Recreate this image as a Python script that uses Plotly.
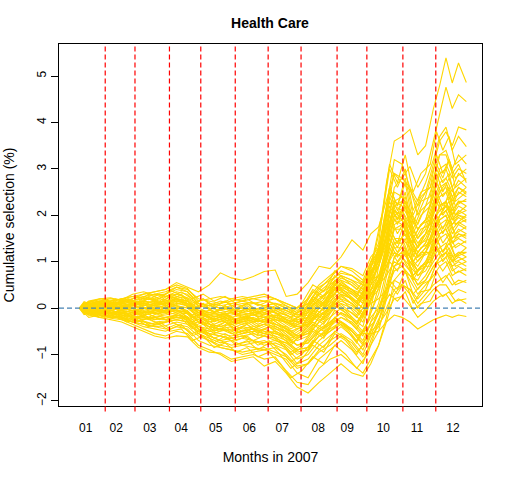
import plotly.graph_objects as go

# trading-day index (2007) at which each path value was read
days = [4, 10, 17, 24, 31, 38, 45, 52, 59, 66, 73, 80, 87, 94, 101, 108, 115, 122, 129, 136,
        143, 150, 157, 164, 171, 178, 185, 190, 195, 200, 205, 210, 215, 220, 225, 230, 234,
        238, 242, 246, 251]
# second reading grid, offset from the first one
days_b = [4, 7, 13, 20, 27, 34, 41, 48, 55, 62, 69, 76, 83, 90, 97, 104, 111, 118, 125, 132,
          139, 146, 153, 160, 167, 174, 181, 188, 192, 197, 202, 207, 212, 217, 222, 228, 232,
          236, 240, 244, 251]

# month boundaries (between last day of one month and first of the next)
month_breaks = [20.5, 39.5, 61.5, 81.5, 103.5, 124.5, 145.5, 168.5, 187.5, 210.5, 231.5]
month_label_days = [8, 27.5, 49, 69, 91, 112.5, 133.5, 156.5, 175, 198, 219.5, 242.5]
month_labels = ["01", "02", "03", "04", "05", "06", "07", "08", "09", "10", "11", "12"]
y_ticks = [-2, -1, 0, 1, 2, 3, 4, 5]

# cumulative selection (%) paths, grouped by where they finish the year
paths_top = [
    [0, 0.05, 0.1, 0.08, 0.12, 0.15, 0.2, 0.18, 0.25, 0.3, 0.22, 0.1, 0.05, 0.0, 0.05, 0.1, 0.12, 0.05, 0.1, 0.0, -0.1,
     0.05, 0.3, 0.45, 0.7, 0.6, 0.5, 1.0, 1.4, 2.7, 3.6, 3.7, 3.85, 3.3, 3.5, 4.3, 4.8, 5.39, 4.85, 5.28, 4.86],
    [0, -0.05, 0.02, 0.05, 0.0, 0.08, 0.1, 0.05, 0.12, 0.18, 0.1, -0.05, -0.1, -0.15, -0.1, -0.2, -0.15, -0.1, -0.2, -0.25, -0.3,
     -0.4, -0.1, 0.2, 0.5, 0.4, 0.3, 0.9, 1.2, 2.0, 2.9, 2.8, 3.05, 2.6, 2.9, 3.6, 4.2, 4.76, 4.3, 4.6, 4.45],
    [0, 0.1, 0.15, 0.12, 0.2, 0.25, 0.3, 0.35, 0.4, 0.55, 0.45, 0.35, 0.5, 0.76, 0.65, 0.6, 0.68, 0.79, 0.82, 0.25, 0.3,
     0.55, 0.9, 0.85, 1.1, 1.47, 1.25, 1.6, 1.75, 2.3, 2.9, 2.7, 2.55, 2.2, 2.5, 3.1, 3.6, 3.8, 3.5, 3.9, 3.84],
    [0, -0.08, -0.1, -0.05, -0.12, -0.1, -0.15, -0.1, -0.05, 0.0, -0.05, -0.3, -0.4, -0.45, -0.5, -0.4, -0.45, -0.35, -0.4, -0.5, -0.7,
     -0.6, -0.3, 0.0, 0.3, 0.2, 0.0, 0.5, 0.9, 1.6, 2.6, 2.8, 2.6, 2.3, 2.7, 3.2, 3.7, 3.9, 3.4, 3.7, 3.48],
    [0, 0.12, 0.05, 0.1, 0.02, 0.08, -0.05, 0.0, 0.05, 0.15, 0.1, -0.1, -0.2, -0.25, -0.2, -0.3, -0.25, -0.2, -0.15, -0.3, -0.4,
     -0.35, 0.0, 0.3, 0.5, 0.3, 0.1, 0.6, 0.9, 1.5, 2.3, 2.4, 2.1, 1.8, 2.2, 2.7, 3.3, 3.4, 3.0, 3.3, 3.1],
    [0, -0.1, -0.15, -0.2, -0.18, -0.3, -0.35, -0.4, -0.38, -0.3, -0.35, -0.5, -0.6, -0.7, -0.65, -0.6, -0.7, -0.75, -0.7, -0.8, -1.0,
     -0.9, -0.5, -0.3, -0.1, -0.2, -0.4, 0.2, 0.6, 1.4, 2.2, 2.3, 2.0, 1.7, 1.9, 2.5, 3.0, 3.1, 2.8, 3.0, 2.9],
    [0, 0.08, 0.15, 0.2, 0.18, 0.3, 0.35, 0.28, 0.3, 0.45, 0.35, 0.1, 0.05, 0.1, 0.15, 0.2, 0.25, 0.3, 0.2, 0.1, 0.0,
     0.2, 0.5, 0.7, 0.9, 0.8, 0.6, 1.0, 1.2, 1.8, 2.5, 2.4, 2.1, 1.7, 1.9, 2.4, 2.9, 3.0, 2.6, 2.9, 2.75],
    [0, 0.05, 0.1, 0.05, 0.0, 0.05, 0.1, 0.05, 0.12, 0.2, 0.15, -0.1, -0.05, -0.1, -0.05, 0.0, -0.05, -0.1, 0.0, -0.1, -0.2,
     -0.15, 0.15, 0.4, 0.65, 0.55, 0.35, 0.9, 1.3, 2.2, 3.2, 3.1, 2.6, 2.0, 2.4, 3.0, 3.3, 3.3, 2.9, 3.1, 2.7],
]

paths_mid = [
    [0, -0.05, -0.08, 0.0, -0.05, -0.1, -0.08, -0.12, -0.1, -0.05, -0.1, -0.3, -0.35, -0.4, -0.3, -0.35, -0.3, -0.25, -0.35, -0.4, -0.6,
     -0.55, -0.2, 0.05, 0.25, 0.1, -0.15, 0.4, 0.7, 1.3, 2.0, 2.1, 1.8, 1.5, 1.8, 2.3, 2.7, 2.8, 2.5, 2.75, 2.6],
    [0, 0.02, -0.05, -0.1, -0.05, -0.2, -0.25, -0.2, -0.25, -0.15, -0.2, -0.45, -0.55, -0.6, -0.7, -0.65, -0.7, -0.6, -0.65, -0.75, -0.9,
     -0.85, -0.6, -0.4, -0.2, -0.35, -0.6, -0.1, 0.3, 1.0, 1.8, 1.9, 1.6, 1.3, 1.6, 2.1, 2.5, 2.7, 2.4, 2.6, 2.5],
    [0, -0.08, -0.05, 0.0, 0.05, 0.1, 0.05, 0.1, 0.15, 0.2, 0.15, -0.05, -0.15, -0.1, -0.2, -0.15, -0.1, -0.15, -0.05, -0.15, -0.3,
     -0.2, 0.1, 0.3, 0.55, 0.4, 0.2, 0.6, 0.9, 1.5, 2.3, 2.2, 1.9, 1.5, 1.7, 2.2, 2.6, 2.7, 2.3, 2.6, 2.45],
    [0, 0.1, 0.05, 0.0, 0.05, 0.0, 0.05, 0.1, 0.08, 0.2, 0.15, 0.0, -0.1, -0.05, 0.0, -0.1, -0.05, 0.05, 0.0, -0.05, -0.2,
     -0.1, 0.2, 0.4, 0.6, 0.5, 0.3, 0.7, 1.0, 1.5, 2.1, 2.0, 1.7, 1.4, 1.6, 2.1, 2.5, 2.6, 2.2, 2.5, 2.4],
    [0, -0.1, -0.2, -0.15, -0.25, -0.35, -0.45, -0.55, -0.6, -0.5, -0.55, -0.8, -0.9, -1.0, -1.15, -1.1, -1.05, -1.25, -1.15, -1.4, -1.7,
     -1.83, -1.6, -1.4, -1.2, -1.4, -1.47, -1.2, -0.8, -0.2, 0.6, 0.8, 0.7, 0.6, 0.9, 1.5, 2.0, 2.2, 2.0, 2.3, 2.3],
    [0, 0.05, 0.0, 0.05, 0.1, 0.05, 0.1, 0.15, 0.1, 0.18, 0.1, -0.15, -0.2, -0.3, -0.25, -0.2, -0.3, -0.25, -0.2, -0.3, -0.35,
     -0.3, -0.1, 0.1, 0.3, 0.2, 0.0, 0.4, 0.6, 1.2, 1.9, 2.0, 1.6, 1.3, 1.6, 2.0, 2.4, 2.5, 2.1, 2.3, 2.2],
    [0, -0.1, -0.05, -0.12, -0.08, -0.15, -0.1, -0.18, -0.15, -0.1, -0.12, -0.4, -0.5, -0.45, -0.55, -0.5, -0.45, -0.55, -0.5, -0.6, -0.8,
     -0.7, -0.4, -0.2, 0.0, -0.1, -0.3, 0.2, 0.5, 1.1, 1.7, 1.8, 1.5, 1.2, 1.4, 1.9, 2.2, 2.3, 2.0, 2.2, 2.1],
    [0, 0.15, 0.2, 0.15, 0.2, 0.25, 0.2, 0.3, 0.25, 0.35, 0.3, 0.05, 0.0, -0.05, -0.1, -0.05, 0.0, -0.05, 0.05, -0.05, -0.15,
     -0.1, 0.3, 0.5, 0.7, 0.6, 0.4, 0.8, 0.9, 1.4, 1.9, 1.8, 1.5, 1.2, 1.4, 1.8, 2.2, 2.3, 1.9, 2.1, 2.0],
    [0, -0.05, -0.15, -0.2, -0.22, -0.3, -0.4, -0.45, -0.5, -0.4, -0.45, -0.7, -0.8, -0.85, -0.9, -1.0, -0.95, -0.9, -1.0, -1.1, -1.4,
     -1.5, -1.1, -0.9, -0.7, -0.9, -1.2, -0.7, -0.3, 0.4, 1.1, 1.3, 1.1, 0.9, 1.2, 1.7, 2.0, 2.1, 1.8, 2.0, 1.95],
    [0, 0.12, 0.2, 0.22, 0.15, 0.2, 0.3, 0.35, 0.4, 0.5, 0.42, 0.15, 0.2, 0.25, 0.2, 0.15, 0.2, 0.25, 0.2, 0.05, -0.05,
     0.1, 0.45, 0.6, 0.75, 0.7, 0.55, 0.8, 1.0, 1.6, 2.2, 2.1, 1.7, 1.3, 1.5, 1.9, 2.1, 2.2, 1.9, 2.0, 1.9],
    [0, 0.05, 0.1, 0.05, 0.0, -0.05, 0.0, -0.05, 0.0, 0.1, 0.05, -0.2, -0.3, -0.25, -0.35, -0.3, -0.25, -0.3, -0.35, -0.45, -0.6,
     -0.5, -0.2, 0.0, 0.2, 0.1, -0.1, 0.3, 0.6, 1.1, 1.7, 1.7, 1.4, 1.1, 1.3, 1.7, 2.0, 2.1, 1.8, 1.95, 1.85],
    [0, -0.15, -0.1, -0.2, -0.15, -0.2, -0.15, -0.25, -0.2, -0.15, -0.2, -0.45, -0.6, -0.7, -0.8, -0.75, -0.7, -0.8, -0.75, -0.85, -1.1,
     -1.0, -0.7, -0.5, -0.3, -0.5, -0.8, -0.3, 0.1, 0.8, 1.4, 1.5, 1.3, 1.0, 1.2, 1.6, 1.9, 2.0, 1.7, 1.85, 1.75],
    [0, 0.1, 0.12, 0.1, 0.15, 0.1, 0.15, 0.12, 0.15, 0.25, 0.2, 0.05, 0.1, 0.05, 0.1, 0.15, 0.1, 0.05, 0.1, 0.05, -0.1,
     0.0, 0.35, 0.55, 0.8, 0.7, 0.5, 0.9, 1.1, 1.5, 2.0, 1.9, 1.5, 1.1, 1.3, 1.6, 1.9, 2.0, 1.6, 1.8, 1.7],
    [0, -0.08, -0.12, -0.1, -0.15, -0.25, -0.3, -0.35, -0.3, -0.25, -0.3, -0.55, -0.65, -0.75, -0.7, -0.8, -0.75, -0.7, -0.8, -0.9, -1.2,
     -1.1, -0.8, -0.6, -0.4, -0.6, -0.9, -0.5, -0.1, 0.5, 1.1, 1.2, 1.0, 0.8, 1.0, 1.4, 1.7, 1.8, 1.5, 1.7, 1.6],
    [0, -0.2, -0.15, -0.22, -0.25, -0.3, -0.28, -0.35, -0.3, -0.25, -0.3, -0.55, -0.7, -0.85, -0.9, -0.95, -0.9, -0.85, -0.95, -1.05, -1.3,
     -1.2, -0.95, -0.8, -0.6, -0.75, -1.05, -0.8, -0.5, 0.2, 0.9, 1.1, 0.9, 0.7, 0.9, 1.3, 1.6, 1.7, 1.4, 1.6, 1.55],
    [0, 0.05, 0.08, 0.12, 0.1, 0.2, 0.25, 0.3, 0.35, 0.45, 0.4, 0.2, 0.15, 0.1, 0.2, 0.25, 0.2, 0.15, 0.2, 0.1, 0.0,
     0.1, 0.4, 0.65, 0.9, 0.85, 0.7, 1.1, 1.3, 1.7, 2.1, 1.9, 1.4, 1.1, 1.2, 1.5, 1.8, 1.9, 1.5, 1.6, 1.5],
]

paths_low = [
    [0, -0.05, 0.0, -0.05, -0.1, -0.05, -0.1, -0.05, -0.1, -0.05, -0.08, -0.25, -0.35, -0.4, -0.35, -0.45, -0.4, -0.35, -0.45, -0.5, -0.65,
     -0.55, -0.3, -0.1, 0.1, 0.0, -0.2, 0.2, 0.4, 0.9, 1.4, 1.4, 1.1, 0.8, 1.0, 1.3, 1.6, 1.7, 1.4, 1.5, 1.4],
    [0, 0.12, 0.18, 0.1, 0.05, 0.1, 0.05, 0.1, 0.05, 0.12, 0.05, -0.1, -0.15, -0.2, -0.15, -0.1, -0.15, -0.2, -0.15, -0.2, -0.3,
     -0.25, 0.0, 0.2, 0.45, 0.35, 0.15, 0.5, 0.7, 1.0, 1.5, 1.5, 1.1, 0.8, 0.9, 1.2, 1.5, 1.6, 1.3, 1.4, 1.3],
    [0, -0.12, -0.2, -0.25, -0.3, -0.4, -0.5, -0.6, -0.65, -0.6, -0.62, -0.85, -0.95, -0.97, -1.1, -1.05, -1.0, -1.1, -1.05, -1.35, -1.6,
     -1.65, -1.3, -1.1, -1.0, -1.2, -1.4, -1.1, -0.8, -0.3, 0.3, 0.5, 0.4, 0.2, 0.4, 0.8, 1.1, 1.2, 1.0, 1.2, 1.2],
    [0, 0.0, 0.05, 0.1, 0.08, 0.15, 0.1, 0.05, 0.1, 0.05, 0.0, -0.2, -0.25, -0.2, -0.3, -0.25, -0.2, -0.3, -0.25, -0.3, -0.45,
     -0.35, -0.1, 0.15, 0.35, 0.2, 0.0, 0.3, 0.5, 0.9, 1.3, 1.3, 1.0, 0.7, 0.8, 1.1, 1.3, 1.4, 1.1, 1.2, 1.1],
    [0, -0.15, -0.2, -0.15, -0.2, -0.25, -0.2, -0.3, -0.28, -0.2, -0.25, -0.5, -0.55, -0.6, -0.65, -0.6, -0.55, -0.6, -0.7, -0.75, -0.95,
     -0.9, -0.6, -0.45, -0.3, -0.45, -0.7, -0.3, -0.1, 0.4, 0.9, 1.0, 0.8, 0.5, 0.7, 1.0, 1.2, 1.3, 1.0, 1.1, 1.0],
    [0, 0.08, 0.1, 0.15, 0.2, 0.15, 0.25, 0.2, 0.3, 0.4, 0.35, 0.1, 0.05, 0.15, 0.1, 0.05, 0.1, 0.15, 0.1, 0.0, -0.15,
     -0.05, 0.2, 0.35, 0.5, 0.4, 0.2, 0.6, 0.7, 0.9, 1.2, 1.1, 0.8, 0.5, 0.6, 0.9, 1.1, 1.2, 0.9, 1.0, 0.9],
    [0, -0.05, -0.1, -0.08, -0.12, -0.18, -0.22, -0.2, -0.25, -0.2, -0.22, -0.4, -0.45, -0.5, -0.45, -0.55, -0.5, -0.45, -0.55, -0.6, -0.8,
     -0.75, -0.45, -0.3, -0.1, -0.25, -0.5, -0.2, 0.0, 0.4, 0.8, 0.9, 0.7, 0.4, 0.6, 0.9, 1.0, 1.1, 0.8, 0.9, 0.8],
    [0, 0.05, 0.0, -0.05, 0.0, 0.05, 0.0, 0.05, 0.1, 0.15, 0.1, -0.05, -0.1, -0.15, -0.1, -0.15, -0.1, -0.05, -0.1, -0.15, -0.25,
     -0.2, 0.05, 0.25, 0.4, 0.3, 0.1, 0.4, 0.5, 0.7, 1.0, 0.9, 0.6, 0.3, 0.5, 0.7, 0.9, 1.0, 0.7, 0.8, 0.7],
    [0, -0.1, -0.15, -0.18, -0.22, -0.3, -0.35, -0.4, -0.45, -0.35, -0.4, -0.6, -0.7, -0.8, -0.85, -0.8, -0.85, -0.9, -0.85, -1.0, -1.25,
     -1.2, -0.9, -0.7, -0.55, -0.7, -1.0, -0.6, -0.4, 0.0, 0.4, 0.5, 0.4, 0.1, 0.3, 0.5, 0.6, 0.7, 0.5, 0.6, 0.55],
    [0, 0.1, 0.08, 0.05, 0.1, 0.05, 0.1, 0.05, 0.0, 0.05, 0.0, -0.15, -0.2, -0.15, -0.25, -0.2, -0.15, -0.2, -0.25, -0.3, -0.4,
     -0.35, -0.15, 0.0, 0.15, 0.05, -0.15, 0.1, 0.2, 0.4, 0.6, 0.5, 0.3, 0.0, 0.2, 0.4, 0.5, 0.5, 0.3, 0.4, 0.33],
    [0, -0.05, -0.1, -0.12, -0.15, -0.2, -0.18, -0.25, -0.2, -0.15, -0.2, -0.45, -0.5, -0.55, -0.6, -0.55, -0.5, -0.55, -0.6, -0.7, -0.9,
     -0.85, -0.6, -0.5, -0.35, -0.5, -0.75, -0.5, -0.35, -0.1, 0.2, 0.25, 0.05, -0.2, -0.05, 0.15, 0.25, 0.3, 0.1, 0.2, 0.1],
    [0, 0.05, 0.08, 0.0, -0.05, 0.0, -0.1, -0.05, -0.1, -0.05, -0.1, -0.3, -0.4, -0.45, -0.4, -0.5, -0.45, -0.5, -0.55, -0.65, -0.8,
     -0.75, -0.5, -0.35, -0.2, -0.3, -0.55, -0.55, -0.5, -0.3, -0.15, -0.2, -0.3, -0.45, -0.35, -0.25, -0.2, -0.15, -0.2, -0.15, -0.18],
]

# paths read on the days_b grid
paths_extra = [
    [0, 0.08, 0.02, 0.12, 0.05, 0.15, 0.08, 0.2, 0.1, 0.25, 0.15, -0.05, 0.1, -0.1, 0.05, -0.15, 0.0, -0.2, -0.05, -0.15,
     -0.35, -0.2, 0.25, 0.1, 0.55, 0.35, 0.1, 0.45, 0.9, 1.5, 2.6, 2.2, 2.7, 1.8, 2.3, 2.4, 3.1, 2.8, 3.2, 2.6, 2.8],
    [0, -0.06, 0.04, -0.1, -0.02, -0.15, -0.05, -0.2, -0.1, -0.05, -0.15, -0.3, -0.2, -0.45, -0.3, -0.5, -0.35, -0.55, -0.4, -0.6,
     -0.8, -0.55, -0.3, -0.45, -0.05, -0.2, -0.45, 0.0, 0.3, 0.8, 1.7, 1.4, 1.9, 1.1, 1.5, 1.7, 2.4, 2.1, 2.5, 2.0, 2.2],
    [0, 0.1, 0.05, 0.18, 0.1, 0.22, 0.12, 0.3, 0.2, 0.38, 0.28, 0.05, 0.2, 0.0, 0.15, -0.05, 0.1, -0.1, 0.05, -0.1,
     -0.2, 0.0, 0.4, 0.25, 0.7, 0.5, 0.3, 0.6, 0.9, 1.3, 2.0, 1.6, 1.9, 1.2, 1.4, 1.5, 2.0, 1.7, 2.0, 1.5, 1.6],
    [0, -0.1, -0.05, -0.18, -0.12, -0.25, -0.2, -0.35, -0.3, -0.45, -0.35, -0.6, -0.5, -0.75, -0.6, -0.8, -0.7, -0.9, -0.75, -1.0,
     -1.3, -1.1, -0.8, -0.95, -0.55, -0.7, -1.0, -0.6, -0.3, 0.2, 1.0, 0.8, 1.2, 0.6, 0.9, 1.0, 1.5, 1.2, 1.5, 1.1, 1.3],
    [0, 0.05, -0.05, 0.02, -0.08, 0.0, -0.1, 0.05, -0.05, 0.1, 0.0, -0.2, -0.1, -0.25, -0.15, -0.3, -0.2, -0.25, -0.15, -0.3,
     -0.45, -0.3, 0.1, -0.05, 0.4, 0.2, 0.0, 0.5, 1.1, 1.9, 3.0, 2.6, 3.0, 2.1, 2.5, 2.6, 3.0, 2.7, 2.9, 2.3, 2.5],
    [0, 0.06, 0.12, 0.04, 0.1, 0.02, 0.08, -0.02, 0.05, -0.05, 0.02, -0.15, -0.05, -0.2, -0.1, -0.25, -0.15, -0.3, -0.2, -0.35,
     -0.5, -0.4, -0.05, -0.2, 0.2, 0.0, -0.2, 0.15, 0.4, 0.8, 1.4, 1.1, 1.3, 0.7, 0.9, 0.9, 1.3, 1.0, 1.2, 0.9, 1.0],
    [0, -0.04, 0.06, 0.0, 0.1, 0.04, 0.15, 0.1, 0.2, 0.15, 0.3, 0.1, 0.2, 0.05, 0.15, 0.0, 0.1, -0.05, 0.05, -0.05,
     -0.2, -0.05, 0.35, 0.2, 0.6, 0.45, 0.25, 0.7, 1.2, 2.0, 3.1, 2.7, 3.3, 2.5, 2.9, 3.1, 3.8, 3.4, 3.7, 3.1, 3.3],
    [0, -0.08, -0.15, -0.1, -0.2, -0.15, -0.28, -0.22, -0.35, -0.28, -0.4, -0.55, -0.45, -0.65, -0.55, -0.7, -0.6, -0.8, -0.7, -0.9,
     -1.15, -1.0, -0.7, -0.85, -0.5, -0.65, -0.95, -0.7, -0.45, -0.1, 0.5, 0.3, 0.6, 0.1, 0.35, 0.4, 0.8, 0.55, 0.75, 0.5, 0.6],
    [0, 0.12, 0.08, 0.15, 0.1, 0.18, 0.12, 0.22, 0.15, 0.3, 0.22, 0.0, 0.1, -0.1, 0.0, -0.15, -0.05, -0.2, -0.1, -0.25,
     -0.4, -0.25, 0.15, 0.0, 0.45, 0.3, 0.05, 0.4, 0.8, 1.4, 2.2, 1.9, 2.3, 1.5, 1.8, 1.9, 2.4, 2.1, 2.3, 1.8, 2.0],
    [0, -0.12, -0.06, -0.15, -0.08, -0.2, -0.12, -0.25, -0.18, -0.22, -0.15, -0.4, -0.3, -0.5, -0.4, -0.55, -0.45, -0.6, -0.5, -0.7,
     -0.95, -0.8, -0.45, -0.6, -0.2, -0.4, -0.7, -0.3, 0.1, 0.7, 1.6, 1.3, 1.7, 1.0, 1.3, 1.4, 1.9, 1.6, 1.9, 1.6, 1.75],
    [0, 0.04, 0.1, 0.06, 0.14, 0.08, 0.12, 0.04, 0.1, 0.02, 0.12, -0.05, 0.05, -0.1, 0.0, -0.05, 0.05, -0.1, 0.0, -0.15,
     -0.3, -0.15, 0.2, 0.05, 0.5, 0.3, 0.1, 0.55, 0.9, 1.6, 2.5, 2.1, 2.4, 1.6, 2.0, 2.2, 2.7, 2.4, 2.6, 2.2, 2.35],
    [0, -0.02, -0.1, -0.04, -0.12, -0.06, -0.15, -0.08, -0.12, -0.02, -0.1, -0.25, -0.15, -0.3, -0.2, -0.35, -0.25, -0.4, -0.3, -0.45,
     -0.65, -0.5, -0.15, -0.3, 0.1, -0.1, -0.35, 0.0, 0.3, 0.8, 1.5, 1.2, 1.5, 0.9, 1.1, 1.2, 1.7, 1.4, 1.6, 1.3, 1.45],
    [0, 0.14, 0.06, 0.1, 0.0, 0.06, -0.04, 0.02, -0.08, 0.0, -0.1, -0.3, -0.2, -0.35, -0.25, -0.4, -0.3, -0.45, -0.35, -0.5,
     -0.7, -0.55, -0.2, -0.35, 0.05, -0.1, -0.35, 0.1, 0.6, 1.4, 2.4, 2.0, 2.5, 1.7, 2.1, 2.3, 2.9, 2.5, 2.8, 2.4, 2.6],
    [0, 0.02, -0.06, 0.0, -0.08, -0.02, -0.12, -0.05, -0.15, -0.1, -0.18, -0.35, -0.25, -0.4, -0.3, -0.45, -0.35, -0.5, -0.4, -0.55,
     -0.75, -0.6, -0.35, -0.5, -0.2, -0.35, -0.6, -0.45, -0.3, 0.0, 0.3, 0.15, 0.35, -0.05, 0.1, 0.15, 0.4, 0.25, 0.35, 0.15, 0.2],
    [0, 0.1, 0.16, 0.1, 0.2, 0.14, 0.25, 0.18, 0.3, 0.22, 0.35, 0.2, 0.3, 0.15, 0.25, 0.1, 0.2, 0.05, 0.15, 0.0,
     -0.1, 0.1, 0.5, 0.35, 0.8, 0.6, 0.4, 0.7, 0.9, 1.2, 1.7, 1.4, 1.6, 1.0, 1.2, 1.2, 1.5, 1.2, 1.4, 1.1, 1.2],
    [0, -0.06, -0.12, -0.05, -0.15, -0.1, -0.2, -0.12, -0.25, -0.18, -0.22, -0.45, -0.35, -0.55, -0.45, -0.6, -0.5, -0.65, -0.55, -0.75,
     -1.0, -0.85, -0.5, -0.65, -0.25, -0.45, -0.75, -0.3, 0.3, 1.3, 2.6, 2.2, 2.8, 2.0, 2.4, 2.6, 3.3, 2.9, 3.2, 2.8, 3.0],
    [0, 0.08, 0.0, 0.08, -0.02, 0.05, -0.05, 0.02, -0.06, 0.05, -0.02, -0.2, -0.1, -0.25, -0.12, -0.28, -0.18, -0.3, -0.2, -0.35,
     -0.55, -0.4, 0.0, -0.15, 0.3, 0.1, -0.15, 0.3, 0.7, 1.3, 2.1, 1.8, 2.2, 1.4, 1.7, 1.8, 2.3, 2.0, 2.2, 1.8, 1.9],
    [0, -0.14, -0.08, -0.2, -0.14, -0.3, -0.25, -0.4, -0.35, -0.5, -0.45, -0.7, -0.6, -0.85, -0.75, -0.95, -0.85, -1.05, -0.95, -1.2,
     -1.5, -1.35, -1.05, -1.2, -0.8, -1.0, -1.3, -1.0, -0.6, -0.1, 0.6, 0.4, 0.8, 0.3, 0.5, 0.6, 1.0, 0.8, 1.0, 0.75, 0.85],
    [0, 0.0, 0.08, 0.14, 0.08, 0.18, 0.1, 0.2, 0.12, 0.25, 0.18, -0.02, 0.08, -0.08, 0.05, -0.1, 0.0, -0.12, 0.0, -0.18,
     -0.3, -0.12, 0.25, 0.1, 0.5, 0.35, 0.15, 0.5, 0.85, 1.5, 2.3, 1.9, 2.2, 1.5, 1.8, 2.0, 2.5, 2.2, 2.4, 2.0, 2.1],
    [0, -0.04, 0.02, -0.06, 0.0, -0.08, -0.02, -0.1, -0.04, -0.08, 0.0, -0.2, -0.12, -0.28, -0.2, -0.32, -0.22, -0.35, -0.25, -0.4,
     -0.6, -0.45, -0.1, -0.25, 0.15, -0.05, -0.3, 0.05, 0.35, 0.7, 1.3, 1.0, 1.25, 0.7, 0.9, 1.0, 1.35, 1.1, 1.3, 1.0, 1.1],
]

FONT = "Liberation Sans, Arial, sans-serif"
GOLD = "#FFD700"


def add_paths(fig, x, paths):
    for p in paths:
        if len(p) != len(x):
            raise ValueError("path length does not match its day grid")
        fig.add_trace(go.Scatter(
            x=x, y=p, mode="lines",
            line=dict(color=GOLD, width=1.1),
            showlegend=False, hoverinfo="skip"
        ))


fig = go.Figure()
add_paths(fig, days, paths_top)
add_paths(fig, days, paths_mid)
add_paths(fig, days_b, paths_extra)
add_paths(fig, days, paths_low)

# month separators, drawn a little past the bottom of the box like abline(xpd=TRUE)
for b in month_breaks:
    fig.add_shape(type="line", xref="x", yref="paper", x0=b, x1=b, y0=-0.015, y1=1,
                  line=dict(color="red", width=1.2, dash="5px,3px"))

# zero line
fig.add_shape(type="line", xref="paper", yref="y", x0=0, x1=1, y0=0, y1=0,
              line=dict(color="#4682B4", width=1.2, dash="5px,3px"))

fig.update_layout(
    width=512, height=480,
    margin=dict(l=59, r=30, t=44, b=74),
    paper_bgcolor="white", plot_bgcolor="white",
    font=dict(family=FONT, size=12, color="black"),
    title=dict(text="<b>Health Care</b>", x=270 / 512, xanchor="center", y=1 - 23 / 480,
               yanchor="middle", font=dict(size=14)),
)

fig.update_xaxes(
    range=[-9, 261], showgrid=False, zeroline=False, automargin=False,
    showline=True, mirror=True, linecolor="black", linewidth=1,
    tickmode="array", tickvals=month_label_days, ticktext=month_labels,
    ticks="", ticklabelstandoff=11,
    title=dict(text="Months in 2007", standoff=17),
)

fig.update_yaxes(
    range=[-2.11, 5.69], showgrid=False, zeroline=False, automargin=False,
    showline=True, mirror=True, linecolor="black", linewidth=1,
    tickmode="array", tickvals=y_ticks, ticks="outside", ticklen=7, tickcolor="black",
    tickangle=-90,
    title=dict(text="Cumulative selection (%)", standoff=17),
)

# drop the default page margin so the figure sits at the window corner
fig.write_html("out.html", config={"displayModeBar": False},
               post_script="document.body.style.margin = '0';")
